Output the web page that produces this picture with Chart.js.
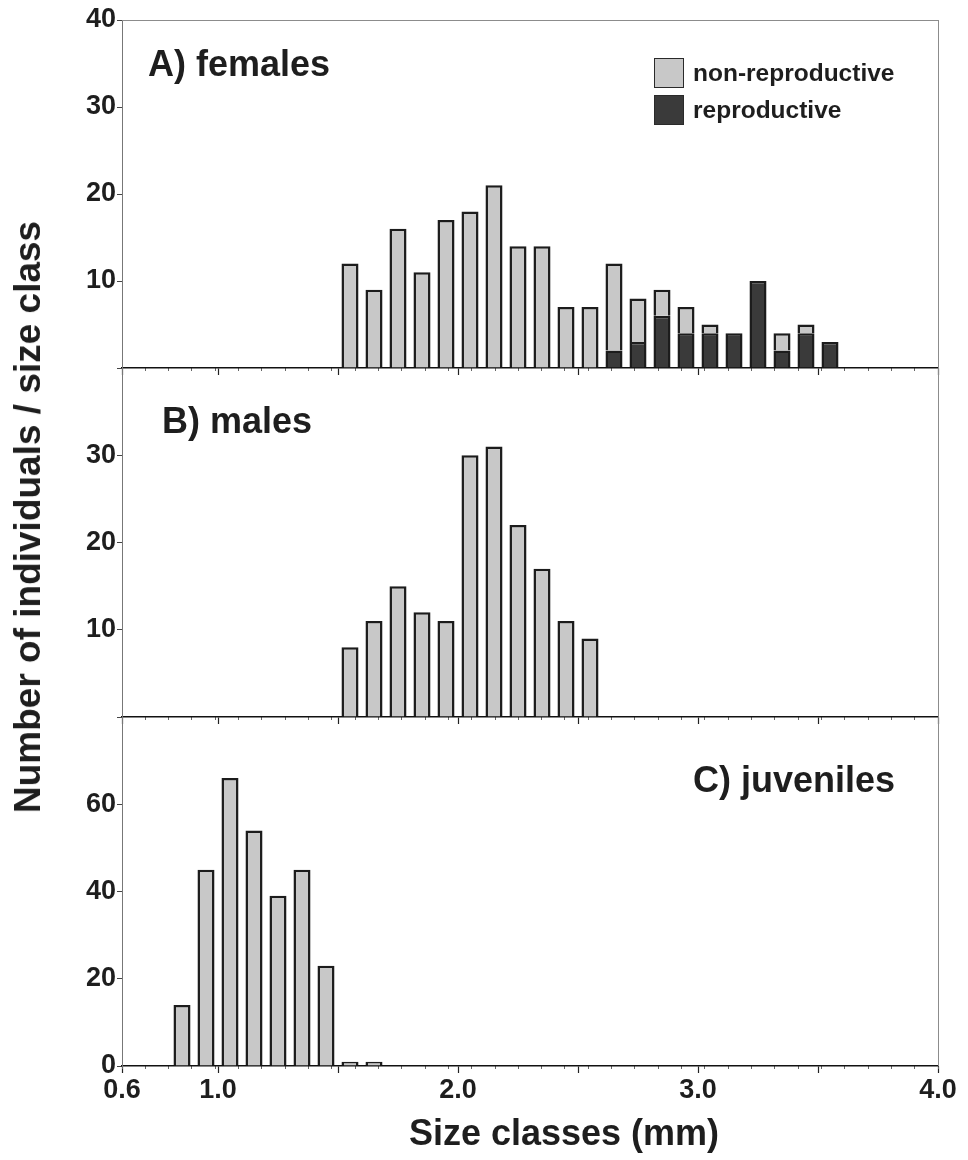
<!DOCTYPE html>
<html lang="en">
<head>
<meta charset="UTF-8">
<title>Size class distributions</title>
<script src="https://cdn.jsdelivr.net/npm/chart.js"></script>
<style>
  body { margin: 0; background: #fff; font-family: 'Liberation Sans', Arial, sans-serif; }
  #page { position: relative; width: 968px; height: 1160px; overflow: hidden; }
  #page canvas { position: absolute; left: 0; }
  .txt { position: absolute; font-weight: bold; color: #1e1e1e; white-space: nowrap; }
  .panel { font-size: 36px; line-height: 36px; }
  .leg { font-size: 24.5px; line-height: 24.5px; }
  .box { position: absolute; width: 28px; height: 28px; border: 1.5px solid #2a2a2a; }
</style>
</head>
<body>
<div id="page">
  <canvas id="chartA" width="968" height="376" style="top:0"></canvas>
  <canvas id="chartB" width="968" height="357" style="top:368px"></canvas>
  <canvas id="chartC" width="968" height="443" style="top:717px"></canvas>

  <div class="txt panel" style="left:148px; top:46px">A) females</div>
  <div class="txt panel" style="left:162px; top:403px">B) males</div>
  <div class="txt panel" style="left:693px; top:762px">C) juveniles</div>
  <div id="legend"></div>

  <div class="txt" style="left:28px; top:517px; font-size:37px; transform:translate(-50%,-50%) rotate(-90deg)">Number of individuals / size class</div>
  <div class="txt" style="left:564px; top:1133px; font-size:36px; transform:translate(-50%,-50%)">Size classes (mm)</div>
</div>

<script>
// size class midpoints (mm)
const femaleSizes = [1.55, 1.65, 1.75, 1.85, 1.95, 2.05, 2.15, 2.25, 2.35, 2.45, 2.55,
                     2.65, 2.75, 2.85, 2.95, 3.05, 3.15, 3.25, 3.35, 3.45, 3.55];
const femaleRepro    = [0, 0, 0, 0, 0, 0, 0, 0, 0, 0, 0, 2, 3, 6, 4, 4, 4, 10, 2, 4, 3];
const femaleNonRepro = [12, 9, 16, 11, 17, 18, 21, 14, 14, 7, 7, 10, 5, 3, 3, 1, 0, 0, 2, 1, 0];

const maleSizes  = [1.55, 1.65, 1.75, 1.85, 1.95, 2.05, 2.15, 2.25, 2.35, 2.45, 2.55];
const maleCounts = [8, 11, 15, 12, 11, 30, 31, 22, 17, 11, 9];

const juvSizes  = [0.85, 0.95, 1.05, 1.15, 1.25, 1.35, 1.45, 1.55, 1.65];
const juvCounts = [14, 45, 66, 54, 39, 45, 23, 1, 1];

// axes
const xMajorTicks = [0.6, 1.0, 1.5, 2.0, 2.5, 3.0, 3.5, 4.0];
const xLabels = [0.6, 1.0, 2.0, 3.0, 4.0];
const yLabelsA = [10, 20, 30, 40];
const yLabelsB = [10, 20, 30];
const yLabelsC = [0, 20, 40, 60];

const LIGHT = '#c8c8c8';
const DARK = '#3a3a3a';
const EDGE = '#1c1c1c';

Chart.defaults.font.family = "'Liberation Sans', Arial, sans-serif";
Chart.defaults.font.weight = 'bold';
Chart.defaults.color = '#1e1e1e';

const toPts = (xs, ys) => xs.map((x, i) => ({ x: x, y: ys[i] }));

const noPad = s => { s.paddingTop = 0; s.paddingBottom = 0; s.paddingLeft = 0; s.paddingRight = 0; };

const framePlugin = {
  id: 'frame',
  afterDraw(chart, args, opts) {
    const ctx = chart.ctx, a = chart.chartArea;
    ctx.save();
    ctx.strokeStyle = '#8c8c8c';
    ctx.lineWidth = 1;
    ctx.beginPath();
    ctx.moveTo(a.right + 0.5, a.top);
    ctx.lineTo(a.right + 0.5, a.bottom);
    if (opts.top) {
      ctx.moveTo(a.left, a.top + 0.5);
      ctx.lineTo(a.right, a.top + 0.5);
    }
    ctx.stroke();
    ctx.restore();
  }
};

function barSet(label, pts, color) {
  return {
    label: label,
    data: pts,
    backgroundColor: color,
    borderColor: EDGE,
    borderWidth: 2.5,
    barPercentage: 0.71,
    categoryPercentage: 1,
    stack: 's'
  };
}

function makeChart(id, datasets, yMax, yStep, yLabels, opts) {
  return new Chart(document.getElementById(id), {
    type: 'bar',
    data: { datasets: datasets },
    options: {
      responsive: false,
      animation: false,
      layout: { autoPadding: false, padding: { top: opts.padTop, right: 30, left: 0, bottom: 0 } },
      plugins: {
        legend: { display: false },
        tooltip: { enabled: false },
        frame: { top: opts.frameTop }
      },
      scales: {
        x: {
          type: 'linear',
          min: 0.6,
          max: 4.0,
          stacked: true,
          offset: false,
          afterBuildTicks: s => { s.ticks = xMajorTicks.map(v => ({ value: v })); },
          afterFit: s => { s.height = opts.xHeight; noPad(s); },
          grid: { drawOnChartArea: false, offset: false, tickLength: 7, tickColor: '#222', tickWidth: 1.2 },
          border: { color: '#111', width: 1.5 },
          ticks: {
            display: opts.xLabels,
            autoSkip: false,
            maxRotation: 0,
            padding: 1,
            font: { size: 27, weight: 'bold' },
            callback: v => xLabels.some(l => Math.abs(l - v) < 1e-6) ? v.toFixed(1) : ''
          }
        },
        xm: {
          axis: 'x',
          type: 'linear',
          min: 0.6,
          max: 4.0,
          position: { y: 0 },
          afterBuildTicks: s => {
            const t = [];
            for (let i = 6; i <= 40; i++) t.push({ value: i / 10 });
            s.ticks = t;
          },
          afterFit: noPad,
          grid: { drawOnChartArea: false, tickLength: 3, tickColor: '#666', tickWidth: 1 },
          border: { display: false },
          ticks: { display: false, autoSkip: false }
        },
        y: {
          min: 0,
          max: yMax,
          stacked: true,
          afterBuildTicks: s => {
            const t = [];
            for (let v = 0; v <= yMax; v += yStep) t.push({ value: v });
            s.ticks = t;
          },
          afterFit: s => { s.width = 122; noPad(s); },
          grid: { drawOnChartArea: false, tickLength: 5, tickColor: '#444' },
          border: { color: '#777', width: 1 },
          ticks: {
            padding: 1,
            font: { size: 27, weight: 'bold' },
            callback: v => yLabels.includes(v) ? String(v) : ''
          }
        }
      }
    },
    plugins: [framePlugin]
  });
}

makeChart('chartA', [
  barSet('reproductive', toPts(femaleSizes, femaleRepro), DARK),
  barSet('non-reproductive', toPts(femaleSizes, femaleNonRepro), LIGHT)
], 40, 10, yLabelsA, { padTop: 20, xHeight: 8, xLabels: false, frameTop: true });

makeChart('chartB', [
  barSet('males', toPts(maleSizes, maleCounts), LIGHT)
], 40, 10, yLabelsB, { padTop: 0, xHeight: 8, xLabels: false, frameTop: false });

makeChart('chartC', [
  barSet('juveniles', toPts(juvSizes, juvCounts), LIGHT)
], 80, 20, yLabelsC, { padTop: 0, xHeight: 94, xLabels: true, frameTop: false });

// legend for panel A
const legendItems = [
  { text: 'non-reproductive', color: LIGHT, top: 58 },
  { text: 'reproductive', color: DARK, top: 95 }
];
const legend = document.getElementById('legend');
legendItems.forEach(item => {
  const box = document.createElement('div');
  box.className = 'box';
  box.style.left = '654px';
  box.style.top = item.top + 'px';
  box.style.background = item.color;
  legend.appendChild(box);
  const t = document.createElement('div');
  t.className = 'txt leg';
  t.style.left = '693px';
  t.style.top = (item.top + 3) + 'px';
  t.textContent = item.text;
  legend.appendChild(t);
});
</script>
</body>
</html>
